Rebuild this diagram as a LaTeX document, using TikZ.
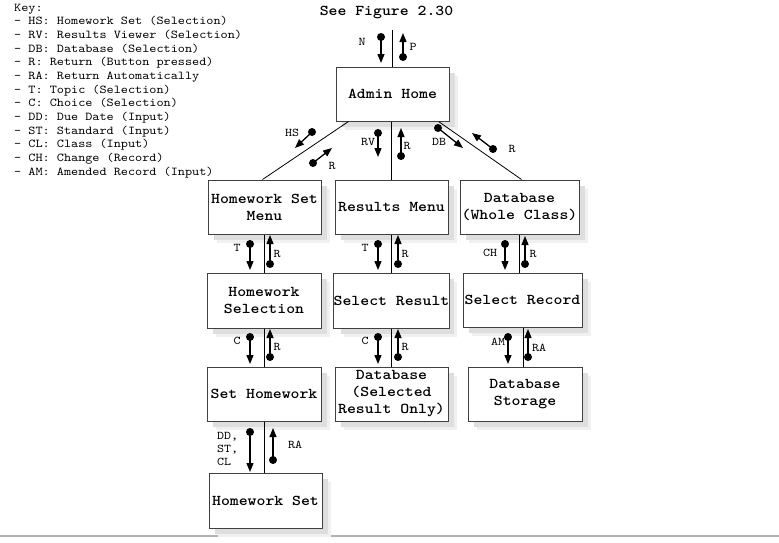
\documentclass[tikz,border=0pt]{standalone}
\usepackage{fontspec}
\setmonofont{lmmono10-regular.otf}[BoldFont=lmmonolt10-bold.otf, FakeStretch=1.13]
\usetikzlibrary{arrows.meta,calc}
\tikzset{
  box/.style={draw=black!75, line width=1pt, fill=white, inner sep=0pt, align=center,
    font=\ttfamily\bfseries\fontsize{15}{17}\selectfont},
  shadowA/.style={fill=black!6},
  shadowB/.style={fill=black!13},
  lab/.style={inner sep=0pt, font=\ttfamily\fontsize{11.8}{12.7}\selectfont},
  keytxt/.style={inner sep=0pt, anchor=base west, font=\ttfamily\fontsize{12}{13.7}\selectfont},
  sig/.style={line width=1.3pt, -{Triangle[length=9pt,width=7pt]}},
  link/.style={line width=0.8pt, black}
}
\newcommand\sgn[5]{%
  \coordinate (#1a) at (#2,#3);
  \coordinate (#1b) at (#4,#5);
  \fill (#1a) circle[radius=4pt];
  \draw[sig] (#1a) -- (#1b);}
\newcommand\shbox[5]{% x1 y1 x2 y2 (box corners), name
  \fill[shadowA] (#1+9,#2+9) rectangle (#3+9,#4+9);
  \fill[shadowB] (#1+6,#2+6) rectangle (#3+6,#4+6);
  \node[box, minimum width={#3-#1}, minimum height={#4-#2}] (#5) at ({(#1+#3)/2},{(#2+#4)/2})}
\begin{document}
\begin{tikzpicture}[x=1pt,y=-1pt]
\useasboundingbox (0,0) rectangle (779,542);
\draw[black!30, line width=1.5pt] (0,536) coordinate (bl) -- (779,536) coordinate (br);

% key
\foreach \t [count=\i from 0] in {{Key:},{- HS: Homework Set (Selection)},{- RV: Results Viewer (Selection)},{- DB: Database (Selection)},{- R: Return (Button pressed)},{- RA: Return Automatically},{- T: Topic (Selection)},{- C: Choice (Selection)},{- DD: Due Date (Input)},{- ST: Standard (Input)},{- CL: Class (Input)},{- CH: Change (Record)},{- AM: Amended Record (Input)}}
  \node[keytxt] (key\i) at (14,{11+13.67*\i}) {\t};

\node[inner sep=0pt, font=\ttfamily\bfseries\fontsize{15}{17}\selectfont] (title) at (386.5,13) {See Figure 2.30};

% boxes (shadow + node)
\shbox{336}{67}{449}{121}{admin} {Admin Home};
\shbox{208}{180}{321}{234}{hsmenu} {Homework Set\\Menu};
\shbox{335}{180}{448}{234}{results} {Results Menu};
\shbox{460}{180}{579}{234}{dbwhole} {Database\\(Whole Class)};
\shbox{207}{273}{321}{328}{hwsel} {Homework\\Selection};
\shbox{335}{273}{448}{328}{selres} {Select Result};
\shbox{463}{273}{582}{327}{selrec} {Select Record};
\shbox{207}{367}{321}{421}{sethw} {Set Homework};
\shbox{335}{367}{448}{421}{dbsel} {Database\\(Selected\\Result Only)};
\shbox{468}{367}{582}{421}{dbstor} {Database\\Storage};
\shbox{209}{473}{322}{528}{hwset} {Homework Set};

% links
\coordinate (topin) at (392,30);
\draw[link] (topin) -- (topin |- admin.north);
\draw[link] ($(admin.south west)+(13,0)$) -- ($(hsmenu.north west)+(55,0)$);
\draw[link] ($(admin.south east)+(-11,0)$) -- ($(dbwhole.north west)+(62,0)$);
\draw[link] (admin.south -| results.north) -- (results.north);
\draw[link] (hsmenu.south) -- (hsmenu.south |- hwsel.north);
\draw[link] (results.south) -- (results.south |- selres.north);
\draw[link] (dbwhole.south) -- (dbwhole.south |- selrec.north);
\draw[link] (hwsel.south) -- (hwsel.south |- sethw.north);
\draw[link] (selres.south) -- (selres.south |- dbsel.north);
\draw[link] ($(selrec.south)+(0.5,0)$) -- ($(selrec.south |- dbstor.north)+(0.5,0)$);
\draw[link] (sethw.south) -- (sethw.south |- hwset.north);

% signal arrows
\sgn{n}{381}{37}{381}{63}
\sgn{p}{403}{57}{403}{33}
\sgn{hs}{312}{132}{295}{148}
\sgn{rl}{313}{163}{332}{148}
\sgn{rv}{378}{133}{378}{157}
\sgn{rc}{401}{156}{401}{128}
\sgn{db}{438}{128}{463}{148}
\sgn{rr}{493}{149}{472}{133}
\sgn{ta}{250}{244}{250}{270}
\sgn{ra}{270}{264}{270}{235}
\sgn{tb}{378}{244}{378}{270}
\sgn{rb}{398}{264}{398}{235}
\sgn{ch}{505}{244}{505}{270}
\sgn{rd}{525}{264}{525}{236}
\sgn{ca}{250}{337}{250}{364}
\sgn{re}{270}{357}{270}{329}
\sgn{cb}{378}{337}{378}{364}
\sgn{rf}{398}{357}{398}{329}
\sgn{am}{508}{337}{508}{364}
\sgn{raa}{528}{357}{528}{329}
\sgn{dd}{250}{432}{250}{472}
\sgn{rab}{273}{460}{273}{428}

% labels
\node[lab] (lN) at (362,42) {N};
\node[lab] (lP) at (413,47) {P};
\node[lab] (lHS) at (292,133) {HS};
\node[lab] (lR1) at (332,166) {R};
\node[lab] (lRV) at (368,142) {RV};
\node[lab] (lR2) at (407,146) {R};
\node[lab] (lDB) at (439,142) {DB};
\node[lab] (lR3) at (512,149) {R};
\node[lab] (lT1) at (237,248) {T};
\node[lab] (lR4) at (277,254) {R};
\node[lab] (lT2) at (365,248) {T};
\node[lab] (lR5) at (405,254) {R};
\node[lab] (lCH) at (490,253) {CH};
\node[lab] (lR6) at (533,254) {R};
\node[lab] (lC1) at (237,341) {C};
\node[lab] (lR7) at (277,347) {R};
\node[lab] (lC2) at (365,341) {C};
\node[lab] (lR8) at (405,347) {R};
\node[lab] (lAM) at (498,342) {AM};
\node[lab] (lRA1) at (539,348) {RA};
\node[lab, align=left, anchor=west] (lDD) at (217,449) {DD,\\ST,\\CL};
\node[lab] (lRA2) at (295,445) {RA};
\end{tikzpicture}
\end{document}
